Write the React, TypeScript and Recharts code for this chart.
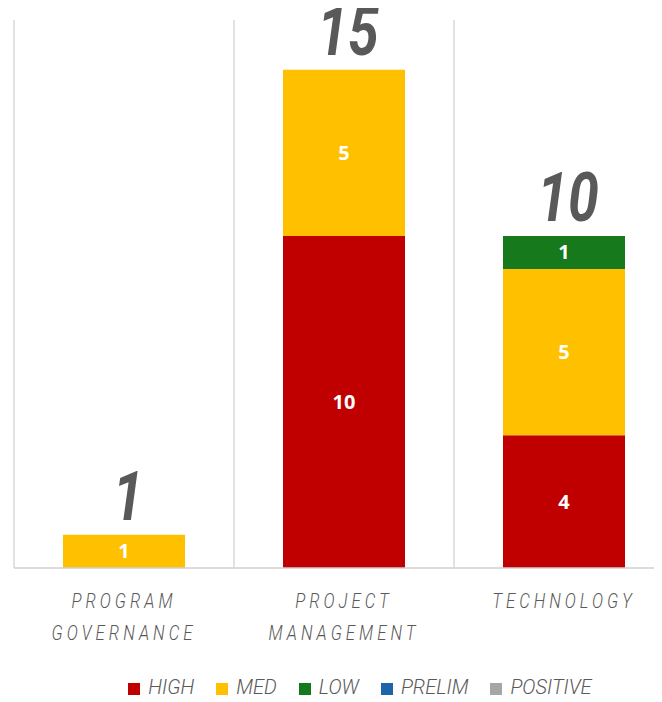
import React from 'react';
import { BarChart, Bar, XAxis, YAxis, CartesianGrid, LabelList, Legend } from 'recharts';

const categories = ['PROGRAM GOVERNANCE', 'PROJECT MANAGEMENT', 'TECHNOLOGY'];
const tickLines = [['PROGRAM', 'GOVERNANCE'], ['PROJECT', 'MANAGEMENT'], ['TECHNOLOGY']];
const highValues = [0, 10, 4];
const medValues = [1, 5, 5];
const lowValues = [0, 0, 1];
const prelimValues = [0, 0, 0];
const positiveValues = [0, 0, 0];

const seriesNames = ['HIGH', 'MED', 'LOW', 'PRELIM', 'POSITIVE'];
const seriesKeys = ['high', 'med', 'low', 'prelim', 'positive'];
const seriesColors = ['#C00000', '#FFC000', '#16791C', '#1F63A8', '#A6A6A6'];
const seriesValues = [highValues, medValues, lowValues, prelimValues, positiveValues];

const data = categories.map((c, i) => ({
  name: c,
  high: highValues[i],
  med: medValues[i],
  low: lowValues[i],
  prelim: prelimValues[i],
  positive: positiveValues[i],
  total: seriesValues.reduce((s, arr) => s + arr[i], 0),
}));

// index of the topmost non-zero series per category
const topSeries = categories.map((_, i) => {
  let top = -1;
  seriesValues.forEach((arr, s) => { if (arr[i] > 0) top = s; });
  return top;
});

const InnerLabel = (props: any) => {
  const { x, y, width, height, value } = props;
  if (!value) return null;
  return (
    <text x={x + width / 2} y={y + height / 2} dy={7} textAnchor="middle" fill="#fff"
      fontFamily="'Open Sans', sans-serif" fontWeight={700} fontSize={20}>
      {value}
    </text>
  );
};

const makeTotalLabel = (seriesIndex: number) => (props: any) => {
  const { x, y, width, value } = props;
  const idx = categories.indexOf(value);
  if (idx < 0 || topSeries[idx] !== seriesIndex) return null;
  const cx = x + width / 2 + 4;
  return (
    <g transform={`translate(${cx}, ${y - 15}) scale(0.8, 1)`}>
      <text x={0} y={0} textAnchor="middle" fill="#595959" fontFamily="Roboto, sans-serif"
        fontWeight={700} fontStyle="italic" fontSize={69}>
        {data[idx].total}
      </text>
    </g>
  );
};

const CategoryTick = (props: any) => {
  const { x, y, index } = props;
  const lines = tickLines[index] || [];
  return (
    <g transform={`translate(${x}, ${y}) scale(0.8, 1)`}>
      {lines.map((l: string, i: number) => (
        <text key={i} x={0} y={32 + i * 32} textAnchor="middle" fill="#595959"
          fontFamily="Roboto, sans-serif" fontWeight={300} fontStyle="italic" fontSize={21}
          letterSpacing={5}>
          {l}
        </text>
      ))}
    </g>
  );
};

const LegendContent = (props: any) => {
  const payload = [...(props.payload || [])].sort(
    (a: any, b: any) => seriesNames.indexOf(a.value) - seriesNames.indexOf(b.value));
  return (
    <div style={{ display: 'flex', justifyContent: 'center', alignItems: 'center', height: 30, paddingLeft: 54, paddingTop: 8, boxSizing: 'border-box' }}>
      {payload.map((p: any, i: number) => (
        <div key={i} style={{ display: 'flex', alignItems: 'center', marginRight: 22, lineHeight: '22px' }}>
          <div style={{ width: 12, height: 12, background: p.color, marginRight: 8, marginTop: 4 }} />
          <span style={{ fontFamily: 'Roboto, sans-serif', fontStyle: 'italic', fontWeight: 300, fontSize: 20, color: '#595959' }}>
            {p.value}
          </span>
        </div>
      ))}
    </div>
  );
};

export default function App() {
  return (
    <div style={{ width: 662, height: 702, overflow: 'hidden', margin: '-8px 0 0 -8px' }}>
      <BarChart width={674} height={702} data={data} margin={{ top: 20, right: 0, left: 14, bottom: 4 }} barSize={122}>
        <CartesianGrid horizontal={false} stroke="#d9d9d9" strokeWidth={1.5}
          verticalCoordinatesGenerator={({ offset }: any) =>
            [0, 1, 2, 3].map((i) => offset.left + (i * offset.width) / categories.length)} />
        <XAxis dataKey="name" height={100} axisLine={{ stroke: '#d0d0d0', strokeWidth: 1.5 }} tickLine={false}
          tick={<CategoryTick />} interval={0} />
        <YAxis hide domain={[0, 16.5]} />
        <Legend verticalAlign="bottom" height={30} content={<LegendContent />} />
        {seriesKeys.map((k, i) => {
          const TL = makeTotalLabel(i);
          return (
            <Bar key={k} dataKey={k} name={seriesNames[i]} stackId="a" fill={seriesColors[i]} isAnimationActive={false}>
              <LabelList dataKey={k} content={<InnerLabel />} />
              <LabelList dataKey="name" content={<TL />} />
            </Bar>
          );
        })}
      </BarChart>
    </div>
  );
}
